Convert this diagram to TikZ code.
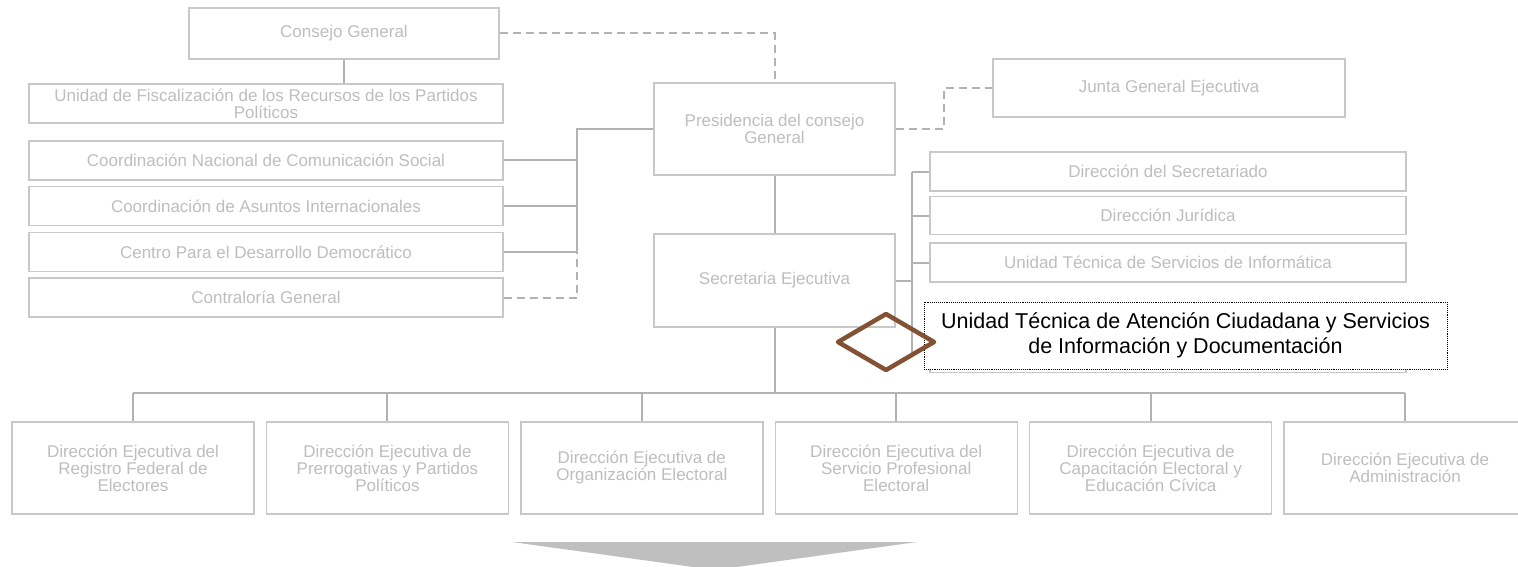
\documentclass[tikz,border=0pt]{standalone}
\usepackage{fontspec}
\setmainfont{Liberation Sans}
\usepackage{tikz}
\usetikzlibrary{calc,positioning}
\usepackage{xcolor}
\definecolor{BoxGray}{RGB}{200,200,200}
\definecolor{LineGray}{RGB}{178,178,178}
\definecolor{TextGray}{RGB}{190,190,190}
\definecolor{ArrowGray}{RGB}{191,191,191}
\definecolor{MarkBrown}{RGB}{131,82,52}

\tikzset{
  unitbox/.style={draw=BoxGray, line width=1.4pt, fill=white, inner sep=0pt,
    align=center, text=TextGray, font=\fontsize{17}{17}\selectfont},
  conn/.style={draw=LineGray, line width=2pt},
  dashconn/.style={draw=LineGray, line width=2pt, dash pattern=on 8pt off 5pt},
}

\begin{document}
\begin{tikzpicture}[x=1pt, y=-1pt]
\fill[white] (0,0) rectangle (1518,567);
\useasboundingbox (0,0) rectangle (1518,567);

% left column
\node[unitbox, minimum width=310pt, minimum height=51pt] (consejo) at (344,33.5) {Consejo General};
\node[unitbox, minimum width=474pt, minimum height=39pt] (fiscal) at (266,103.5)
  {Unidad de Fiscalización de los Recursos de los Partidos\\Políticos};
\node[unitbox, minimum width=474pt, minimum height=39pt] (comunic) at (266,160.5)
  {Coordinación Nacional de Comunicación Social};
\node[unitbox, minimum width=474pt, minimum height=39pt] (asuntos) at (266,206)
  {Coordinación de Asuntos Internacionales};
\node[unitbox, minimum width=474pt, minimum height=39pt] (centro) at (266,252)
  {Centro Para el Desarrollo Democrático};
\node[unitbox, minimum width=474pt, minimum height=39pt] (contral) at (266,297.5)
  {Contraloría General};

% centre column
\node[unitbox, minimum width=241pt, minimum height=92pt] (presid) at (774.5,129)
  {Presidencia del consejo\\General};
\node[unitbox, minimum width=241pt, minimum height=93pt] (secre) at (774.5,280.5)
  {Secretaria Ejecutiva};

% right column
\node[unitbox, minimum width=352pt, minimum height=58pt] (junta) at (1169,88) {Junta General Ejecutiva};
\node[unitbox, minimum width=476pt, minimum height=39pt] (secretariado) at (1168,171.5)
  {Dirección del Secretariado};
\node[unitbox, minimum width=476pt, minimum height=38pt] (juridica) at (1168,215.5)
  {Dirección Jurídica};
\node[unitbox, minimum width=476pt, minimum height=39pt] (informat) at (1168,262.5)
  {Unidad Técnica de Servicios de Informática};
\node[unitbox, minimum width=476pt, minimum height=39pt] (oculta) at (1168,353) {};

% executive directions
\foreach \name/\txt [count=\k from 0] in {
  regfed/{Dirección Ejecutiva del\\Registro Federal de\\Electores},
  prerrog/{Dirección Ejecutiva de\\Prerrogativas y Partidos\\Políticos},
  organiz/{Dirección Ejecutiva de\\Organización Electoral},
  servprof/{Dirección Ejecutiva del\\Servicio Profesional\\Electoral},
  capacit/{Dirección Ejecutiva de\\Capacitación Electoral y\\Educación Cívica},
  admin/{Dirección Ejecutiva de\\Administración}}
  \node[unitbox, minimum width=242pt, minimum height=92pt] (\name) at ({133+254.4*\k},468) {\txt};

% solid links
\draw[conn] (consejo.south) -- (consejo.south |- fiscal.north);
\draw[conn] (presid.south) -- (secre.north);
\coordinate (lbus) at (577,0);
\draw[conn] (presid.west) -- (lbus |- presid.west) -- (lbus |- centro.east);
\foreach \b in {comunic,asuntos,centro}
  \draw[conn] (\b.east) -- (lbus |- \b.east);
\coordinate (rbus) at (912,0);
\draw[conn] (secre.east) -- (rbus |- secre.east);
\draw[conn] (rbus |- secretariado.west) -- (rbus |- oculta.west);
\foreach \b in {secretariado,juridica,informat}
  \draw[conn] (rbus |- \b.west) -- (\b.west);
\coordinate (bbus) at (0,393);
\draw[conn] (secre.south) -- (secre.south |- bbus);
\draw[conn] (regfed.north |- bbus) -- (admin.north |- bbus);
\foreach \b in {regfed,prerrog,organiz,servprof,capacit,admin}
  \draw[conn] (\b.north |- bbus) -- (\b.north);

% dashed links
\draw[dashconn] (consejo.east) -| (presid.north);
\draw[dashconn] (presid.east) -- (944,129) |- (junta.west);
\draw[dashconn] (contral.east) -| (lbus |- centro.east);

% highlighted unit
\node[draw=black, densely dotted, line width=0.9pt, fill=white, inner sep=0pt,
  minimum width=523pt, minimum height=67pt, align=center,
  font=\fontsize{21.5}{25}\selectfont] (atencion) at (1185.5,335.5)
  {Unidad Técnica de Atención Ciudadana y Servicios\\de Información y Documentación};
\draw[MarkBrown, line width=4.5pt, line join=round]
  (886,314) -- (934,342) -- (886,370) -- (838,342) -- cycle;

% arrow below
\fill[ArrowGray] (512,542) -- (917,542) -- (715,570) -- cycle;
\end{tikzpicture}
\end{document}
